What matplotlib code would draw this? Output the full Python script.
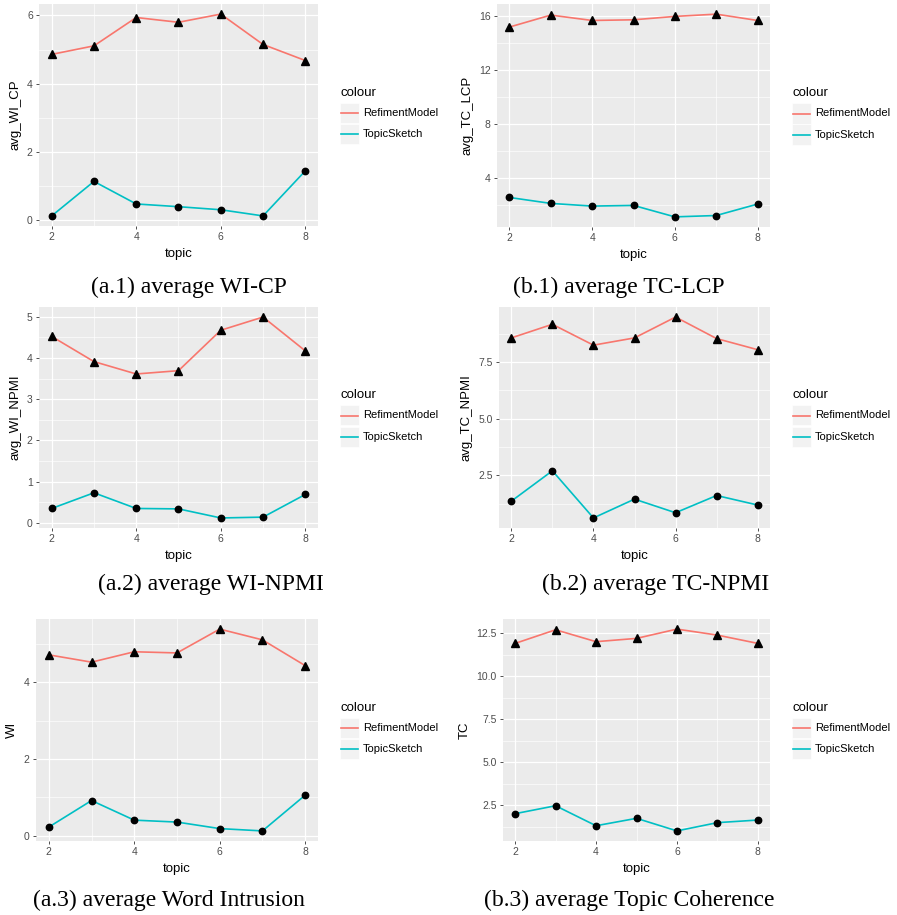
import numpy as np
import matplotlib
matplotlib.use("Agg")
import matplotlib.pyplot as plt
from matplotlib.lines import Line2D
from matplotlib.patches import Rectangle

plt.rcParams['font.family'] = ['Liberation Sans', 'DejaVu Sans']

# data
topics = [2, 3, 4, 5, 6, 7, 8]

wi_cp_refine = [4.86, 5.11, 5.94, 5.80, 6.04, 5.15, 4.68]
wi_cp_sketch = [0.13, 1.14, 0.48, 0.40, 0.31, 0.13, 1.45]

tc_lcp_refine = [15.21, 16.10, 15.70, 15.75, 16.00, 16.17, 15.70]
tc_lcp_sketch = [2.56, 2.12, 1.92, 1.97, 1.12, 1.22, 2.07]

wi_npmi_refine = [4.52, 3.91, 3.61, 3.69, 4.67, 4.99, 4.17]
wi_npmi_sketch = [0.35, 0.73, 0.35, 0.34, 0.12, 0.14, 0.69]

tc_npmi_refine = [8.56, 9.16, 8.24, 8.56, 9.48, 8.53, 8.04]
tc_npmi_sketch = [1.36, 2.70, 0.62, 1.45, 0.85, 1.61, 1.19]

wi_refine = [4.71, 4.52, 4.79, 4.76, 5.38, 5.10, 4.43]
wi_sketch = [0.23, 0.92, 0.41, 0.36, 0.19, 0.13, 1.06]

tc_refine = [11.90, 12.69, 12.00, 12.19, 12.73, 12.38, 11.90]
tc_sketch = [2.02, 2.48, 1.32, 1.75, 1.02, 1.50, 1.65]

series_names = ['RefimentModel', 'TopicSketch']
series_colors = ['#F8766D', '#00BFC4']

W, H = 897, 915
fig = plt.figure(figsize=(W / 100, H / 100), dpi=100)
fig.patch.set_facecolor('white')


def px_axes(left, right, top, bottom):
    return fig.add_axes([left / W, 1 - bottom / H, (right - left) / W, (bottom - top) / H])


def panel(box, refine, sketch, ylabel, yticks, yfmt, caption, cap_xy):
    left, right, top, bottom = box
    ax = px_axes(left, right, top, bottom)
    ax.set_facecolor('#EBEBEB')
    for s in ax.spines.values():
        s.set_visible(False)

    allv = np.array(refine + sketch)
    lo, hi = allv.min(), allv.max()
    pad = 0.05 * (hi - lo)
    ax.set_ylim(lo - pad, hi + pad)
    ax.set_xlim(1.7, 8.3)

    # grid: minor lines halfway between majors
    step = yticks[1] - yticks[0]
    minor_y = [t + step / 2 for t in [yticks[0] - step] + list(yticks)]
    for y in minor_y:
        if lo - pad < y < hi + pad:
            ax.axhline(y, color='white', lw=0.45, zorder=0)
    for y in yticks:
        ax.axhline(y, color='white', lw=0.9, zorder=0)
    for x in [3, 5, 7]:
        ax.axvline(x, color='white', lw=0.45, zorder=0)
    for x in [2, 4, 6, 8]:
        ax.axvline(x, color='white', lw=0.9, zorder=0)

    ax.plot(topics, refine, color=series_colors[0], lw=1.2, zorder=2)
    ax.plot(topics, sketch, color=series_colors[1], lw=1.2, zorder=2)
    ax.plot(topics, refine, ls='none', marker='^', ms=5.6, color='black', zorder=3)
    ax.plot(topics, sketch, ls='none', marker='o', ms=4.6, color='black', zorder=3)

    ax.set_xticks([2, 4, 6, 8])
    ax.set_yticks(yticks)
    ax.set_yticklabels([yfmt.format(t) for t in yticks])
    ax.tick_params(axis='both', length=2.5, width=0.6, color='#333333',
                   labelcolor='#4D4D4D', labelsize=7.5, pad=2)
    ax.set_xlabel('topic', fontsize=9.5, labelpad=4)
    ax.set_ylabel(ylabel, fontsize=9.5, labelpad=4)

    # ggplot-style legend to the right of the panel
    cy = (top + bottom) / 2
    fig.text((right + 22) / W, 1 - (cy - 22) / H, 'colour', fontsize=9.5,
             ha='left', va='center')
    for i, (name, col) in enumerate(zip(series_names, series_colors)):
        kc = cy - 2 + i * 21
        fig.patches.append(Rectangle(((right + 22) / W, 1 - (kc + 10) / H), 19 / W, 20 / H,
                                     transform=fig.transFigure, facecolor='#F2F2F2',
                                     edgecolor='white', lw=0.5))
        fig.lines.append(Line2D([(right + 23) / W, (right + 40) / W], [1 - kc / H, 1 - kc / H],
                                transform=fig.transFigure, color=col, lw=1.2))
        fig.text((right + 45) / W, 1 - kc / H, name, fontsize=8, ha='left', va='center')

    fig.text(cap_xy[0] / W, 1 - cap_xy[1] / H, caption, fontsize=17,
             family=['Liberation Serif', 'DejaVu Serif'], ha='center', va='center')
    return ax


panel((39, 318, 4, 226), wi_cp_refine, wi_cp_sketch, 'avg_WI_CP',
      [0, 2, 4, 6], '{:g}', '(a.1) average WI-CP', (189, 287))
panel((497, 770, 4, 227), tc_lcp_refine, tc_lcp_sketch, 'avg_TC_LCP',
      [4, 8, 12, 16], '{:g}', '(b.1) average TC-LCP', (619, 287))
panel((39, 318, 307, 528), wi_npmi_refine, wi_npmi_sketch, 'avg_WI_NPMI',
      [0, 1, 2, 3, 4, 5], '{:g}', '(a.2) average WI-NPMI', (211, 584))
panel((499, 770, 307, 528), tc_npmi_refine, tc_npmi_sketch, 'avg_TC_NPMI',
      [2.5, 5.0, 7.5], '{:.1f}', '(b.2) average TC-NPMI', (656, 584))
panel((36, 318, 619, 841), wi_refine, wi_sketch, 'WI',
      [0, 2, 4], '{:g}', '(a.3) average Word Intrusion', (169, 900))
panel((503, 770, 619, 841), tc_refine, tc_sketch, 'TC',
      [2.5, 5.0, 7.5, 10.0, 12.5], '{:.1f}', '(b.3) average Topic Coherence', (629, 900))

fig.savefig('out.png', dpi=100)
